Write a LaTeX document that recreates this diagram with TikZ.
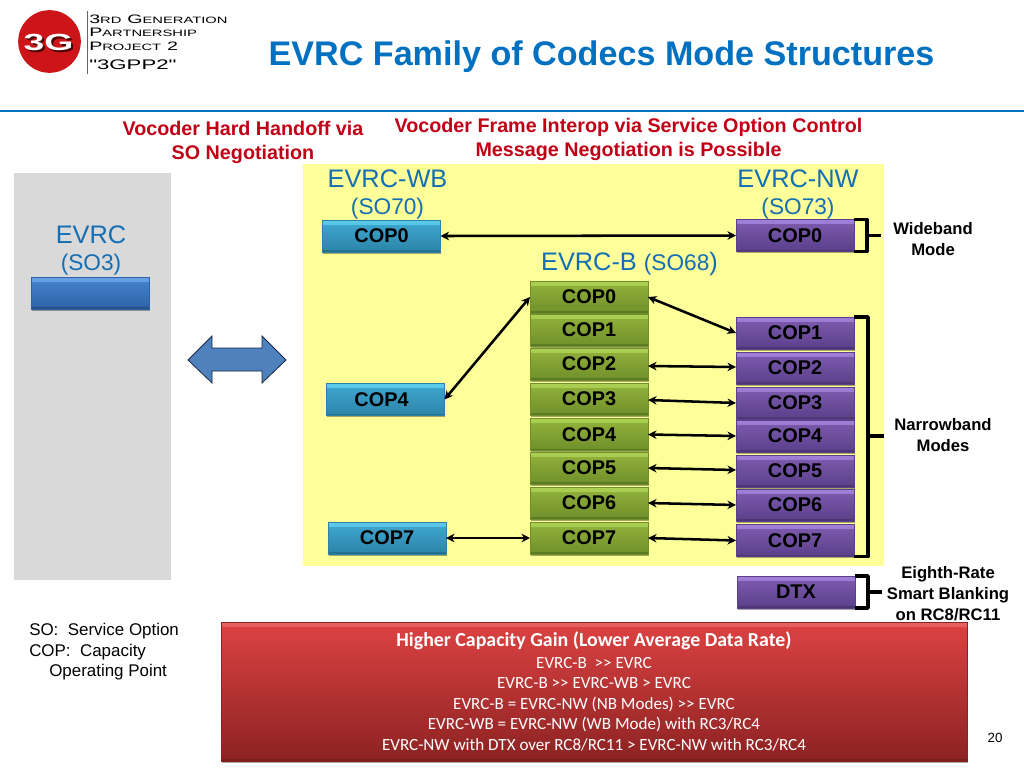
\documentclass[tikz,border=0pt]{standalone}
\usepackage{fontspec}
\setmainfont{Liberation Sans}
\newfontfamily\calib{Carlito}
\newfontfamily\logofont[FakeStretch=1.6]{Liberation Sans}
\usetikzlibrary{arrows.meta,shadows}
\definecolor{titleblue}{RGB}{0,112,192}
\definecolor{labelblue}{RGB}{20,110,180}
\definecolor{headred}{RGB}{192,0,20}
\definecolor{wbtop}{HTML}{3FA9D2}\definecolor{wbhi}{HTML}{5CCBEA}\definecolor{wbbot}{HTML}{2C83A8}
\definecolor{nbtop}{HTML}{93B43C}\definecolor{nbhi}{HTML}{ABD052}\definecolor{nbbot}{HTML}{6F8F2A}
\definecolor{nwtop}{HTML}{7F5CB0}\definecolor{nwhi}{HTML}{A080D8}\definecolor{nwbot}{HTML}{5A3F8A}
\definecolor{evtop}{HTML}{4685D0}\definecolor{evhi}{HTML}{6AA2E6}\definecolor{evbot}{HTML}{2E62A6}
\definecolor{rdtop}{HTML}{DD4242}\definecolor{rdhi}{HTML}{E66060}\definecolor{rdbot}{HTML}{8C2222}
\newcommand{\fs}[2]{\fontsize{#1pt}{#2pt}\selectfont}
\newcommand{\lbig}[1]{{\fs{9.2}{10}#1}}
\newcommand{\lsm}[1]{{\fs{6.9}{10}#1}}
\tikzset{
  x=0.75pt,y=-0.75pt,
  bevelbox/.style n args={3}{draw=#3,line width=0.3pt,inner sep=0pt,outer sep=0pt,
    top color=#1,bottom color=#3,
    drop shadow={shadow xshift=0.4pt,shadow yshift=-1.4pt,opacity=0.35,fill=black},
    path picture={
      \shade[top color=#2,bottom color=#1] (path picture bounding box.north west) rectangle ([yshift=-3pt]path picture bounding box.north east);
      \fill[#3!85!black] (path picture bounding box.south west) rectangle ([yshift=1.2pt]path picture bounding box.south east);
    }},
  copbox/.style={minimum width=88.5pt,minimum height=24pt,font=\bfseries\fs{14.9}{18},text=black},
  wbbox/.style={copbox,bevelbox={wbtop}{wbhi}{wbbot}},
  nbbox/.style={copbox,bevelbox={nbtop}{nbhi}{nbbot}},
  nwbox/.style={copbox,bevelbox={nwtop}{nwhi}{nwbot}},
  evbox/.style={copbox,bevelbox={evtop}{evhi}{evbot}},
  link/.style={line width=1.9pt,draw=black,{Stealth[length=6.4pt,width=6.4pt]}-{Stealth[length=6.4pt,width=6.4pt]}},
  bracket/.style={line width=2.7pt,draw=black,line join=round},
  redhead/.style={font=\bfseries\fs{14.8}{18},text=headred,align=center,inner sep=0pt},
  sidenote/.style={font=\bfseries\fs{12.5}{15.5},text=black,align=center,inner sep=0pt},
  bigblue/.style={font=\fs{19}{22},text=labelblue,inner sep=0pt},
  subblue/.style={font=\fs{17}{20},text=labelblue,inner sep=0pt},
  legendtext/.style={font=\fs{12.7}{15.2},text=black,anchor=west,align=left,inner sep=0pt},
}
\begin{document}
\begin{tikzpicture}
\useasboundingbox (0,0) rectangle (1024,768);
% panels
\node[fill=black!15,minimum width=118pt,minimum height=305pt,inner sep=0pt] (panel) at (92.5,376.5) {};
\node[fill={rgb,255:red,255;green,255;blue,153},minimum width=436pt,minimum height=301.5pt,inner sep=0pt] (yellowpanel) at (593.5,365) {};
% header
\node[circle,fill={rgb,255:red,205;green,20;blue,25},minimum size=47pt,inner sep=0pt] (logocircle) at (49.5,41.5) {};
\node[font=\bfseries\logofont\fs{17.5}{20},text=black!70!red,inner sep=0pt] (logoshadow) at (50.5,44) {3G};
\node[font=\bfseries\logofont\fs{17.5}{20},text=white,inner sep=0pt] (logotext) at (48.5,42) {3G};
\draw[black!60,line width=0.7pt] (87.5,11) coordinate (la) -- (87.5,74) coordinate (lb);
\node[font=\logofont,anchor=west,inner sep=0pt] (l1) at (89,19) {\lbig{3}\lsm{RD} \lbig{G}\lsm{ENERATION}};
\node[font=\logofont,anchor=west,inner sep=0pt] (l2) at (89,32.5) {\lbig{P}\lsm{ARTNERSHIP}};
\node[font=\logofont,anchor=west,inner sep=0pt] (l3) at (89,46.5) {\lbig{P}\lsm{ROJECT} \lbig{2}};
\node[font=\logofont\fs{10.4}{12},anchor=west,inner sep=0pt] (l4) at (89,64.5) {"3GPP2"};
\node[font=\bfseries\fs{25.6}{30},text=titleblue,inner sep=0pt] (title) at (601.5,57) {EVRC Family of Codecs Mode Structures};
\fill[titleblue] (0,109.8) rectangle (1024,112.2);
% red headings
\node[redhead] (h1) at (243,142.5) {Vocoder Hard Handoff via\\SO Negotiation};
\node[redhead] (h2) at (628.5,139) {Vocoder Frame Interop via Service Option Control\\Message Negotiation is Possible};
% family labels
\node[bigblue] (wbl) at (387.5,179) {EVRC-WB};
\node[subblue] (wbs) at (387.5,208.5) {(SO70)};
\node[bigblue] (nwl) at (798,179) {EVRC-NW};
\node[subblue] (nws) at (798,208.5) {(SO73)};
\node[inner sep=0pt,text=labelblue] (bl) at (629.5,264) {\fs{19}{22}EVRC-B \fs{17}{20}(SO68\fs{19}{22})};
\node[bigblue] (evl) at (91,235) {EVRC};
\node[subblue] (evs) at (91,265) {(SO3)};
% boxes
\node[evbox] (ev) at (90.5,293) {};
\node[wbbox] (w0) at (381.5,236) {COP0};
\node[wbbox] (w4) at (385.5,399.5) {COP4\hspace*{6pt}};
\node[wbbox] (w7) at (387,538) {COP7};
\node[nbbox] (b0) at (589,297) {COP0};
\node[nbbox] (b1) at (589,330) {COP1};
\node[nbbox] (b2) at (589,364) {COP2};
\node[nbbox] (b3) at (589,399) {COP3};
\node[nbbox] (b4) at (589,434.5) {COP4};
\node[nbbox] (b5) at (589,468) {COP5};
\node[nbbox] (b6) at (589,503) {COP6};
\node[nbbox] (b7) at (589,538) {COP7};
\node[nwbox] (n0) at (795,235.5) {COP0};
\node[nwbox] (n1) at (795,333) {COP1};
\node[nwbox] (n2) at (795,368) {COP2};
\node[nwbox] (n3) at (795,403) {COP3};
\node[nwbox] (n4) at (795,436) {COP4};
\node[nwbox] (n5) at (795,471) {COP5};
\node[nwbox] (n6) at (795,505) {COP6};
\node[nwbox] (n7) at (795,540.5) {COP7};
\node[nwbox] (dtx) at (796,592) {DTX};
% links
\draw[link] (w0.east) -- (n0.west);
\draw[link] (w4.east) -- (b0.west);
\draw[link] (w7.east) -- (b7.west);
\draw[link] (b0.east) -- (n1.west);
\draw[link] ([shift={(0,2)}]b2.east) -- ([shift={(0,-1)}]n2.west);
\draw[link] ([shift={(0,1)}]b3.east) -- (n3.west);
\draw[link] (b4.east) -- (n4.west);
\draw[link] (b5.east) -- ([shift={(0,-1)}]n5.west);
\draw[link] (b6.east) -- (n6.west);
\draw[link] (b7.east) -- (n7.west);
% brackets
\draw[bracket] (n0.north east) -- ++(13,0) |- (n0.south east);
\coordinate (s0a) at ([shift={(13,0)}]n0.east);
\coordinate (s0b) at ([shift={(27,0)}]n0.east);
\draw[bracket] (s0a) -- (s0b);
\draw[bracket] (n1.north east) -- ++(14,0) |- (n7.south east);
\coordinate (s1a) at ([shift={(14,0)}]n4.east);
\coordinate (s1b) at ([shift={(30,0)}]n4.east);
\draw[bracket] (s1a) -- (s1b);
\draw[bracket] (dtx.north east) -- ++(13,0) |- (dtx.south east);
\coordinate (s2a) at ([shift={(13,0)}]dtx.east);
\coordinate (s2b) at ([shift={(27,0)}]dtx.east);
\draw[bracket] (s2a) -- (s2b);
% side notes
\node[sidenote] (wm) at (933,239) {Wideband\\Mode};
\node[sidenote] (nm) at (943,435) {Narrowband\\Modes};
\node[sidenote] (er) at (948,593.5) {Eighth-Rate\\Smart Blanking\\on RC8/RC11};
% double arrow
\draw[fill={rgb,255:red,79;green,129;blue,189},draw={rgb,255:red,25;green,40;blue,70},line width=0.6pt]
  (188,360) -- (212,336) -- (212,348) -- (262,348) -- (262,336) -- (286,360) -- (262,383) -- (262,371) -- (212,371) -- (212,383) -- cycle;
% legend
\node[legendtext] (lg1) at (29,631) {SO:\ \ Service Option};
\node[legendtext] (lg2) at (29,652) {COP:\ \ Capacity};
\node[legendtext] (lg3) at (49,672) {Operating Point};
% red box
\node[minimum width=559.5pt,minimum height=104pt,inner sep=0pt,outer sep=0pt,align=center,text=white,
  font=\calib\fs{12.8}{15.4},
  bevelbox={rdtop}{rdhi}{rdbot}] (gain) at (594,691.5)
  {{\bfseries\fs{14.9}{15.4}Higher Capacity Gain (Lower Average Data Rate)}\\[1pt]
   EVRC-B\ \ >{}> EVRC\\
   EVRC-B >{}> EVRC-WB > EVRC\\
   EVRC-B = EVRC-NW (NB Modes) >{}> EVRC\\
   EVRC-WB = EVRC-NW (WB Mode) with RC3/RC4\\
   EVRC-NW with DTX over RC8/RC11 > EVRC-NW with RC3/RC4};
\node[font=\fs{10}{12},inner sep=0pt] (pg) at (995,738) {20};
\end{tikzpicture}
\end{document}
